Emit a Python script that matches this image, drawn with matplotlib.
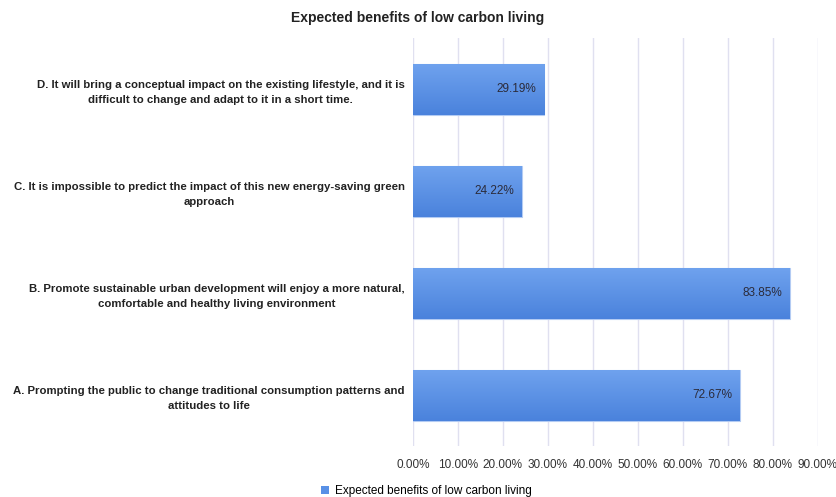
import numpy as np
import matplotlib.pyplot as plt
from matplotlib.patches import Patch
from matplotlib.colors import LinearSegmentedColormap

plt.rcParams['font.family'] = ['Liberation Sans', 'DejaVu Sans']

# Categories listed bottom to top
categories = [
    "A. Prompting the public to change traditional consumption patterns and\nattitudes to life",
    "B. Promote sustainable urban development will enjoy a more natural,\ncomfortable and healthy living environment",
    "C. It is impossible to predict the impact of this new energy-saving green\napproach",
    "D. It will bring a conceptual impact on the existing lifestyle, and it is\ndifficult to change and adapt to it in a short time.",
]
values = [72.67, 83.85, 24.22, 29.19]
series_name = "Expected benefits of low carbon living"
ticks = np.arange(0, 100, 10)

fig = plt.figure(figsize=(8.36, 4.97), dpi=100)
ax = fig.add_axes([0.494, 0.1026, 0.484, 0.8209])

y = np.arange(len(categories))
bars = ax.barh(y, values, height=0.5, color="#5890e6", edgecolor="#b3cbf3",
               linewidth=0.8, zorder=3)

# vertical gradient fill for each bar
grad_cmap = LinearSegmentedColormap.from_list("g", ["#4a82dc", "#6fa2ee"])
grad = np.linspace(0, 1, 256).reshape(-1, 1)
for bar in bars:
    x0, y0 = bar.get_x(), bar.get_y()
    w, h = bar.get_width(), bar.get_height()
    im = ax.imshow(grad, cmap=grad_cmap, aspect="auto", origin="lower",
                   extent=[x0, x0 + w, y0, y0 + h], zorder=3.5)
    im.set_clip_path(bar)

for yi, v in zip(y, values):
    ax.text(v - 1.7, yi, f"{v:.2f}%", ha="right", va="center",
            fontsize=8.5, color="#2b2b3a", zorder=5)

ax.set_xlim(0, 90)
ax.set_ylim(-0.5, len(categories) - 0.5)
ax.set_xticks(ticks)
ax.set_xticklabels([f"{t:.2f}%" for t in ticks], fontsize=8.5, color="#333333")
ax.set_yticks(y)
ax.set_yticklabels(categories, fontsize=8.2, fontweight="bold", color="#222222",
                   multialignment="center", linespacing=1.6)
ax.tick_params(axis="both", length=0, pad=6)
ax.tick_params(axis="x", pad=9)
ax.grid(axis="x", color="#e0e0f0", linewidth=1, zorder=0)
for s in ax.spines.values():
    s.set_visible(False)

fig.suptitle("Expected benefits of low carbon living", x=0.5, y=0.978,
             fontsize=10, fontweight="bold", color="#222222")

handle = Patch(facecolor="#5890e6", edgecolor="none")
fig.legend([handle], [series_name], loc="lower center", bbox_to_anchor=(0.51, -0.022),
           frameon=False, fontsize=8.5, handlelength=0.7, handleheight=0.7,
           handletextpad=0.5)

fig.savefig("out.png", dpi=100)
